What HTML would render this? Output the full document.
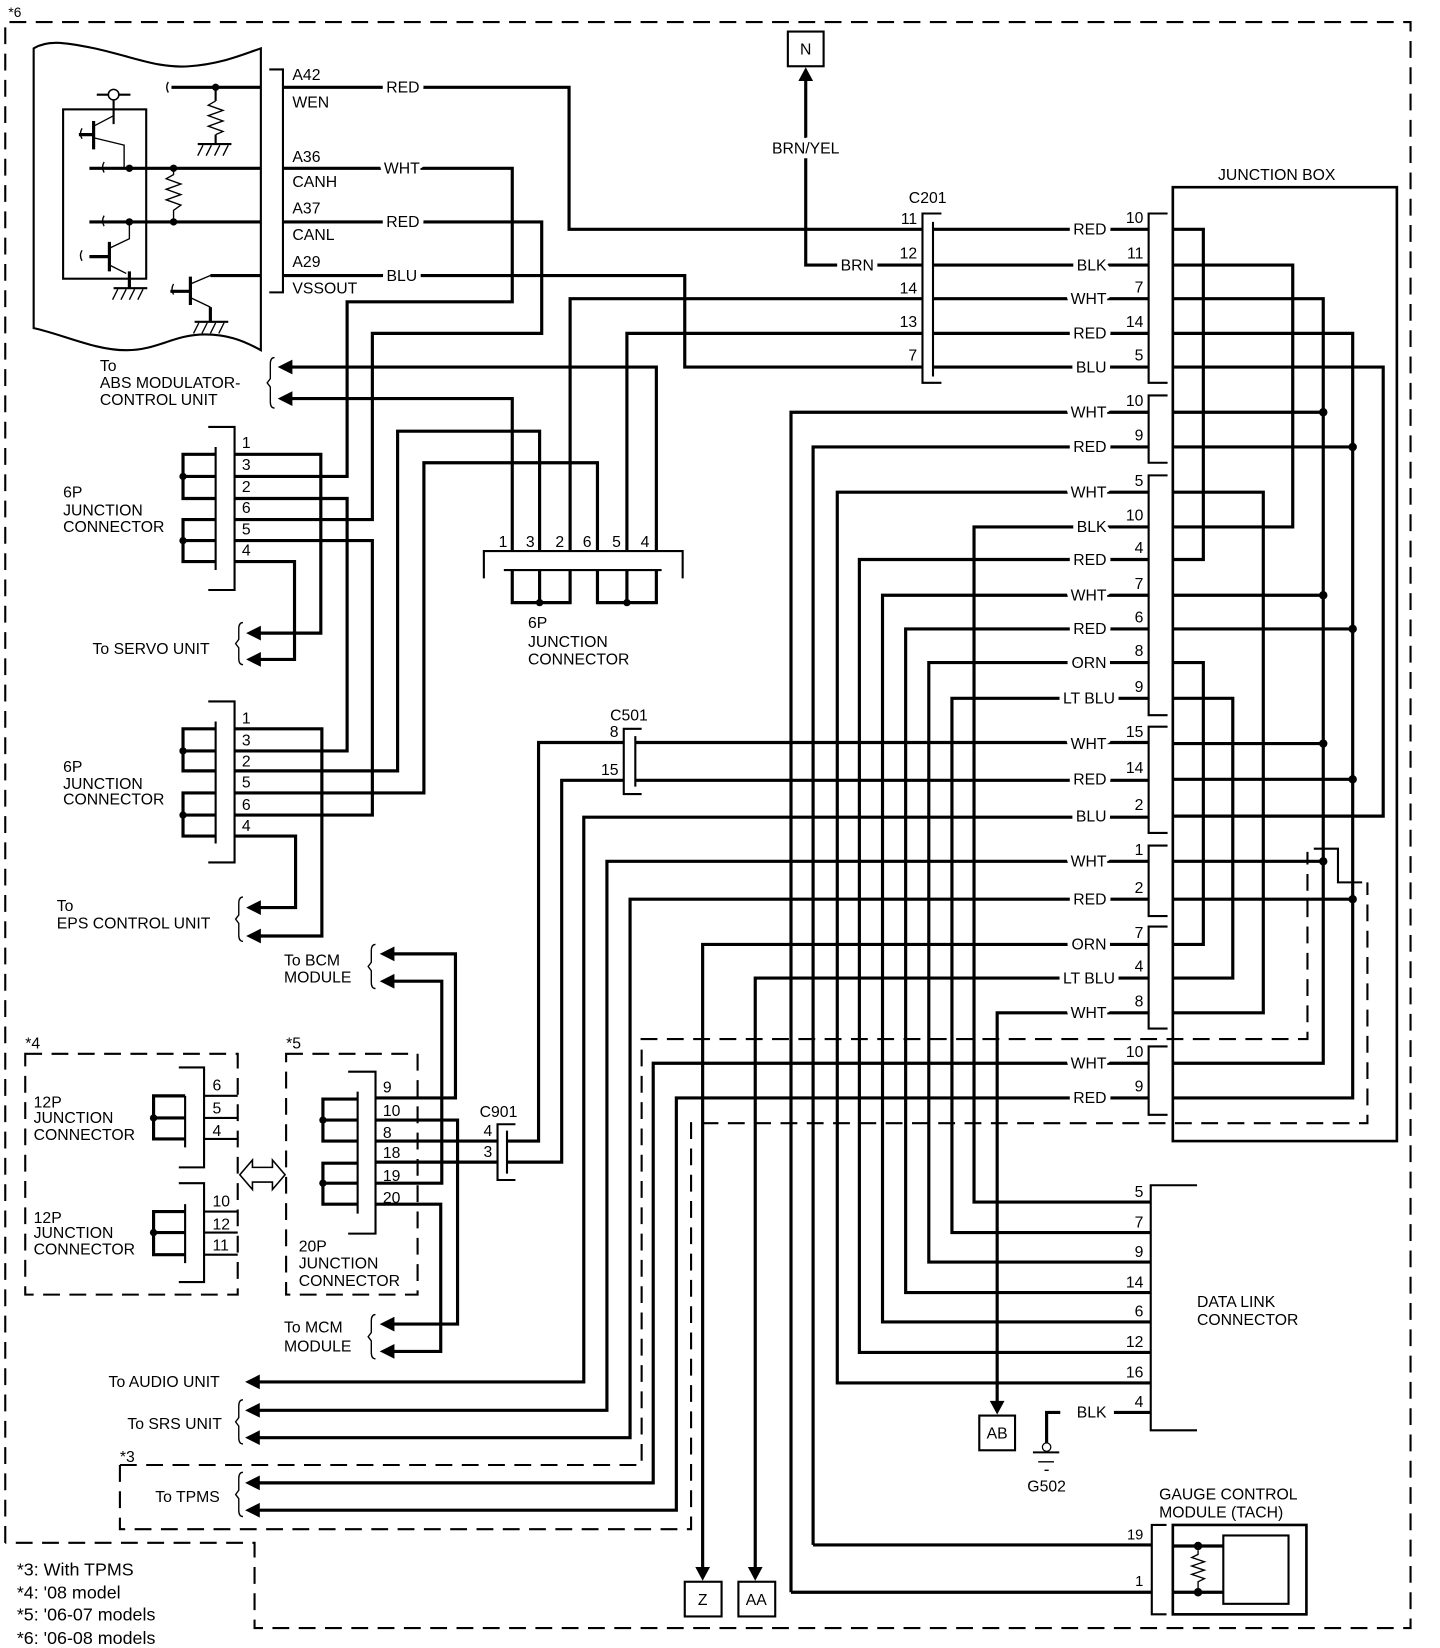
<!DOCTYPE html>
<html><head><meta charset="utf-8"><style>
html,body{margin:0;padding:0;background:#fff;}
svg{display:block;}
text{font-family:"Liberation Sans",Arial,sans-serif;font-size:15px;fill:#000;}
.h{stroke:#fff;stroke-width:9px;paint-order:stroke;stroke-linejoin:round;}
.w{fill:none;stroke:#000;stroke-width:3;}
.t{fill:none;stroke:#000;stroke-width:2;}
.n{fill:none;stroke:#000;stroke-width:1.3;}
.d{fill:none;stroke:#000;stroke-width:2;stroke-dasharray:16,9;}
.fn{font-size:17px;}
</style></head><body>
<svg width="1440" height="1648" viewBox="0 0 1369 1567" preserveAspectRatio="none" xmlns="http://www.w3.org/2000/svg">
<!-- outer dashed -->
<path class="d" d="M5,1467 V21 H1341 V1548 H242 V1467 H5"/>
<text x="8" y="16" style="font-size:13px">*6</text>

<!-- module -->
<path class="t" d="M32,46 C45,38 60,40 90,46 C130,55 150,65 180,63 C210,61 230,52 248,46 V333 C230,323 215,318 195,318 C165,318 150,333 120,333 C90,333 60,318 32,312 Z"/>
<rect class="t" x="60" y="104" width="79" height="161"/>
<circle cx="108" cy="90" r="5" fill="#fff" stroke="#000" stroke-width="1.5"/>
<path class="t" d="M92,90 H103 M113,90 H124 M108,95 V118"/>
<path class="n" d="M108,110 L89,120 M89,131 L118,138 V160"/>
<path class="w" d="M89,115 V142 M75,128 H89"/>
<path class="w" d="M85,160 H248 M85,211 H248 M163,83 H248"/>
<circle cx="123" cy="160" r="3.5"/><circle cx="165" cy="160" r="3.5"/>
<circle cx="123" cy="211" r="3.5"/><circle cx="165" cy="211" r="3.5"/>
<circle cx="205" cy="83" r="3.5"/>
<path class="n" d="M165,160 V166 L158,170 L172,175 L158,180 L172,185 L158,190 L172,195 L165,200 V211"/>
<path class="t" d="M205,83 V96"/>
<path class="n" d="M205,96 L198,100 L212,105 L198,110 L212,115 L198,120 L212,125 L205,128"/>
<path class="t" d="M205,128 V137 M188,137 H220"/>
<path class="n" d="M193,138 l-5,10 M201,138 l-5,10 M209,138 l-5,10 M217,138 l-5,10"/>
<path class="n" d="M123,211 V227 L104,236 M104,252 L120,260"/>
<path class="w" d="M104,230 V258 M85,244 H104 M123,258 V274"/>
<path class="t" d="M108,274 H140"/>
<path class="n" d="M112,275 l-5,10 M120,275 l-5,10 M128,275 l-5,10 M136,275 l-5,10"/>
<path class="w" d="M200,262 H248 M181,263 V290 M162,277 H181 M200,292 V306"/>
<path class="n" d="M200,262 L181,270 M181,283 L200,292"/>
<path class="t" d="M185,306 H217"/>
<path class="n" d="M189,307 l-5,10 M197,307 l-5,10 M205,307 l-5,10 M213,307 l-5,10"/>
<path class="n" d="M78,122 q-3,5 0,10 M78,238 q-3,5 0,10 M99,154 q-3,5 0,10 M99,205 q-3,5 0,10 M160,78 q-3,5 0,10 M165,270 q-3,5 0,10"/>

<!-- module connector -->
<path class="t" d="M256,66 H269 V278 H256"/>
<text x="278" y="76">A42</text><text x="278" y="102">WEN</text>
<text x="278" y="154">A36</text><text x="278" y="178">CANH</text>
<text x="278" y="203">A37</text><text x="278" y="228">CANL</text>
<text x="278" y="254">A29</text><text x="278" y="279">VSSOUT</text>

<!-- top wires -->
<polyline class="w" points="269,83 541,83 541,218 877,218"/>
<polyline class="w" points="269,160 487,160 487,287 330,287 330,453 223,453"/>
<polyline class="w" points="269,211 515,211 515,317 354,317 354,494 223,494"/>
<polyline class="w" points="269,262 651,262 651,349 877,349"/>
<text class="h" x="383" y="88" text-anchor="middle">RED</text>
<text class="h" x="382" y="165" text-anchor="middle">WHT</text>
<text class="h" x="383" y="216" text-anchor="middle">RED</text>
<text class="h" x="382" y="267" text-anchor="middle">BLU</text>

<!-- ABS -->
<polyline class="w" points="277,349 624,349 624,524"/>
<polyline class="w" points="277,379 487,379 487,524"/>
<polygon points="264,349 278,342 278,356"/><polygon points="264,379 278,372 278,386"/>
<path class="n" d="M261,340 q-4,0 -4,6 v14 l-3,4 l3,4 v14 q0,6 4,6"/>
<text x="95" y="353">To</text><text x="95" y="369">ABS MODULATOR-</text><text x="95" y="385">CONTROL UNIT</text>

<!-- J1 -->
<path class="t" d="M198,406 H223 V561 H198 M205,425 V542"/>
<path class="w" d="M205,432 H174 V474 H205 M174,453 H205 M205,494 H174 V534 H205 M174,514 H205"/>
<circle cx="174" cy="453" r="3.5"/><circle cx="174" cy="514" r="3.5"/>
<text x="230" y="426">1</text><text x="230" y="447">3</text><text x="230" y="468">2</text><text x="230" y="488">6</text><text x="230" y="508">5</text><text x="230" y="528">4</text>
<text x="60" y="473">6P</text><text x="60" y="490">JUNCTION</text><text x="60" y="506">CONNECTOR</text>
<polyline class="w" points="223,432 305,432 305,602 247,602"/>
<polyline class="w" points="223,534 280,534 280,627 247,627"/>
<polyline class="w" points="223,474 330,474 330,714 223,714"/>
<polyline class="w" points="223,514 354,514 354,775 223,775"/>
<polygon points="234,602 248,595 248,609"/><polygon points="234,627 248,620 248,634"/>
<path class="n" d="M231,592 q-4,0 -4,6 v10 l-3,4 l3,4 v10 q0,6 4,6"/>
<text x="88" y="622">To SERVO UNIT</text>

<!-- J2 -->
<path class="t" d="M198,667 H223 V820 H198 M205,686 V802"/>
<path class="w" d="M205,693 H174 V733 H205 M174,714 H205 M205,754 H174 V795 H205 M174,775 H205"/>
<circle cx="174" cy="714" r="3.5"/><circle cx="174" cy="775" r="3.5"/>
<text x="230" y="688">1</text><text x="230" y="709">3</text><text x="230" y="729">2</text><text x="230" y="749">5</text><text x="230" y="770">6</text><text x="230" y="790">4</text>
<text x="60" y="734">6P</text><text x="60" y="750">JUNCTION</text><text x="60" y="765">CONNECTOR</text>
<polyline class="w" points="223,693 306,693 306,890 247,890"/>
<polyline class="w" points="223,795 281,795 281,863 247,863"/>
<polyline class="w" points="223,733 378,733 378,410 513,410 513,524"/>
<polyline class="w" points="223,754 403,754 403,440 568,440 568,524"/>
<polygon points="234,863 248,856 248,870"/><polygon points="234,890 248,883 248,897"/>
<path class="n" d="M231,853 q-4,0 -4,6 v11 l-3,4 l3,4 v11 q0,6 4,6"/>
<text x="54" y="866">To</text><text x="54" y="883">EPS CONTROL UNIT</text>

<!-- bottom 6P connector -->
<polyline class="w" points="542,524 542,284 877,284"/>
<polyline class="w" points="596,524 596,317 877,317"/>
<path class="t" d="M460,550 V524 H649 V550 M479,542 H629"/>
<path class="w" d="M487,542 V573 H542 V542 M513,542 V573 M568,542 V573 H624 V542 M596,542 V573"/>
<circle cx="513" cy="573" r="3.5"/><circle cx="596" cy="573" r="3.5"/>
<text x="474" y="520">1</text><text x="500" y="520">3</text><text x="528" y="520">2</text><text x="554" y="520">6</text><text x="582" y="520">5</text><text x="609" y="520">4</text>
<text x="502" y="597">6P</text><text x="502" y="615">JUNCTION</text><text x="502" y="632">CONNECTOR</text>

<!-- N / BRN -->
<rect class="t" x="749" y="30" width="34" height="33"/>
<text x="766" y="52" text-anchor="middle">N</text>
<polygon points="766,64 759,77 773,77"/>
<polyline class="w" points="766,76 766,252 877,252"/>
<text class="h" x="766" y="146" text-anchor="middle">BRN/YEL</text>
<text class="h" x="815" y="257" text-anchor="middle">BRN</text>

<!-- C201 -->
<path class="t" d="M895,203 H877 V364 H895 M887,211 V358"/>
<text x="864" y="193">C201</text>
<g text-anchor="end"><text x="872" y="213">11</text><text x="872" y="246">12</text><text x="872" y="279">14</text><text x="872" y="311">13</text><text x="872" y="343">7</text></g>

<!-- Junction box -->
<rect class="t" x="1115" y="178" width="213" height="907" style="stroke-width:2.5"/>
<text x="1158" y="171">JUNCTION BOX</text>
<path class="t" d="M1110,203 H1092 V364 H1110 M1110,376 H1092 V440 H1110 M1110,452 H1092 V680 H1110 M1110,691 H1092 V792 H1110 M1110,804 H1092 V871 H1110 M1110,881 H1092 V978 H1110 M1110,995 H1092 V1060 H1110"/>
<!-- rows into JB pins -->
<path class="w" d="M887,218 H1092 M887,252 H1092 M887,284 H1092 M887,317 H1092 M887,349 H1092"/>
<polyline class="w" points="752,1514 752,392 1092,392"/>
<polyline class="w" points="773,1469 773,425 1092,425"/>
<polyline class="w" points="1094,1315 796,1315 796,468 1092,468"/>
<polyline class="w" points="1094,1143 926,1143 926,501 1092,501"/>
<polyline class="w" points="1094,1286 817,1286 817,532 1092,532"/>
<polyline class="w" points="1094,1257 839,1257 839,566 1092,566"/>
<polyline class="w" points="1094,1229 861,1229 861,598 1092,598"/>
<polyline class="w" points="1094,1200 883,1200 883,630 1092,630"/>
<polyline class="w" points="1094,1172 905,1172 905,664 1092,664"/>
<polyline class="w" points="473,1085 357,1085"/>
<polyline class="w" points="482,1085 512,1085 512,706 593,706"/>
<polyline class="w" points="473,1105 357,1105"/>
<polyline class="w" points="482,1105 534,1105 534,742 593,742"/>
<path class="w" d="M604,706 H1092 M604,742 H1092"/>
<polyline class="w" points="246,1314 555,1314 555,777 1092,777"/>
<polyline class="w" points="246,1341 577,1341 577,819 1092,819"/>
<polyline class="w" points="246,1367 599,1367 599,855 1092,855"/>
<polyline class="w" points="668,1490 668,898 1092,898"/>
<polyline class="w" points="718,1490 718,930 1092,930"/>
<polyline class="w" points="948,1333 948,963 1092,963"/>
<polyline class="w" points="246,1410 621,1410 621,1011 1092,1011"/>
<polyline class="w" points="246,1436 643,1436 643,1044 1092,1044"/>
<!-- JB internal -->
<path class="w" d="M1115,218 H1144 V532 H1115 M1115,630 H1144 V898 H1115"/>
<path class="w" d="M1115,252 H1229 V501 H1115"/>
<path class="w" d="M1115,284 H1258 V1011 H1115 M1115,392 H1258 M1115,566 H1258 M1115,707 H1258 M1115,819 H1258"/>
<path class="w" d="M1115,317 H1286 V1044 H1115 M1115,425 H1286 M1115,598 H1286 M1115,741 H1286 M1115,855 H1286"/>
<path class="w" d="M1115,349 H1315 V776 H1115"/>
<path class="w" d="M1115,468 H1201 V963 H1115"/>
<path class="w" d="M1115,664 H1172 V930 H1115"/>
<g><circle cx="1258" cy="392" r="4"/><circle cx="1258" cy="566" r="4"/><circle cx="1258" cy="707" r="4"/><circle cx="1258" cy="819" r="4"/>
<circle cx="1286" cy="425" r="4"/><circle cx="1286" cy="598" r="4"/><circle cx="1286" cy="741" r="4"/><circle cx="1286" cy="855" r="4"/></g>
<path class="t" d="M1249,807 H1272 V839 H1295"/>
<!-- dashed options -->
<path class="d" d="M114,1393 H610 V988 H1243 V810"/>
<path class="d" d="M114,1393 V1454 H657 V1068 H1300 V839"/>
<!-- JB labels -->
<g class="h" text-anchor="end">
<text class="h" x="1052" y="223">RED</text><text class="h" x="1052" y="257">BLK</text><text class="h" x="1052" y="289">WHT</text><text class="h" x="1052" y="322">RED</text><text class="h" x="1052" y="354">BLU</text>
<text class="h" x="1052" y="397">WHT</text><text class="h" x="1052" y="430">RED</text>
<text class="h" x="1052" y="473">WHT</text><text class="h" x="1052" y="506">BLK</text><text class="h" x="1052" y="537">RED</text><text class="h" x="1052" y="571">WHT</text><text class="h" x="1052" y="603">RED</text><text class="h" x="1052" y="635">ORN</text><text class="h" x="1060" y="669">LT BLU</text>
<text class="h" x="1052" y="712">WHT</text><text class="h" x="1052" y="746">RED</text><text class="h" x="1052" y="781">BLU</text>
<text class="h" x="1052" y="824">WHT</text><text class="h" x="1052" y="860">RED</text>
<text class="h" x="1052" y="903">ORN</text><text class="h" x="1060" y="935">LT BLU</text><text class="h" x="1052" y="968">WHT</text>
<text class="h" x="1052" y="1016">WHT</text><text class="h" x="1052" y="1049">RED</text>
</g>
<g text-anchor="end" style="font-size:14px">
<text x="1087" y="212">10</text><text x="1087" y="246">11</text><text x="1087" y="278">7</text><text x="1087" y="311">14</text><text x="1087" y="343">5</text>
<text x="1087" y="386">10</text><text x="1087" y="419">9</text>
<text x="1087" y="462">5</text><text x="1087" y="495">10</text><text x="1087" y="526">4</text><text x="1087" y="560">7</text><text x="1087" y="592">6</text><text x="1087" y="624">8</text><text x="1087" y="658">9</text>
<text x="1087" y="701">15</text><text x="1087" y="735">14</text><text x="1087" y="770">2</text>
<text x="1087" y="813">1</text><text x="1087" y="849">2</text>
<text x="1087" y="892">7</text><text x="1087" y="924">4</text><text x="1087" y="957">8</text>
<text x="1087" y="1005">10</text><text x="1087" y="1038">9</text>
</g>

<!-- C501 -->
<path class="t" d="M610,693 H593 V755 H610 M604,700 V748"/>
<text x="580" y="685">C501</text>
<text x="588" y="701" text-anchor="end">8</text><text x="588" y="737" text-anchor="end">15</text>

<!-- C901 -->
<path class="t" d="M490,1069 H473 V1122 H490 M482,1075 V1116"/>
<text x="456" y="1062">C901</text>
<text x="468" y="1080" text-anchor="end">4</text><text x="468" y="1100" text-anchor="end">3</text>

<!-- *4 box -->
<rect class="d" x="24" y="1002" width="202" height="229"/>
<text x="24" y="997">*4</text>
<path class="t" d="M170,1015 H194 V1110 H170 M176,1042 V1091 M170,1125 H194 V1219 H170 M176,1145 V1201"/>
<path class="w" d="M176,1042 H146 V1083 H176 M146,1063 H176 M176,1152 H146 V1193 H176 M146,1172 H176"/>
<path class="w" d="M194,1042 H226 M194,1063 H226 M194,1083 H226 M194,1152 H226 M194,1172 H226 M194,1193 H226" style="stroke-width:2"/>
<circle cx="146" cy="1063" r="3.5"/><circle cx="146" cy="1172" r="3.5"/>
<text x="202" y="1037">6</text><text x="202" y="1059">5</text><text x="202" y="1080">4</text>
<text x="202" y="1147">10</text><text x="202" y="1169">12</text><text x="202" y="1189">11</text>
<text x="32" y="1053">12P</text><text x="32" y="1068">JUNCTION</text><text x="32" y="1084">CONNECTOR</text>
<text x="32" y="1163">12P</text><text x="32" y="1177">JUNCTION</text><text x="32" y="1193">CONNECTOR</text>
<!-- double arrow -->
<path class="t" d="M228,1117 L240,1103 V1110 H259 V1103 L271,1117 L259,1131 V1124 H240 V1131 Z" style="stroke-width:1.5"/>

<!-- *5 box -->
<rect class="d" x="272" y="1002" width="125" height="229"/>
<text x="272" y="997">*5</text>
<path class="t" d="M331,1019 H357 V1173 H331 M340,1038 V1154"/>
<path class="w" d="M340,1045 H307 V1085 H340 M307,1065 H340 M340,1106 H307 V1145 H340 M307,1125 H340"/>
<circle cx="307" cy="1065" r="3.5"/><circle cx="307" cy="1125" r="3.5"/>
<text x="364" y="1039">9</text><text x="364" y="1061">10</text><text x="364" y="1082">8</text><text x="364" y="1101">18</text><text x="364" y="1123">19</text><text x="364" y="1144">20</text>
<text x="284" y="1190">20P</text><text x="284" y="1206">JUNCTION</text><text x="284" y="1223">CONNECTOR</text>
<polyline class="w" points="357,1044 433,1044 433,907 374,907"/>
<polyline class="w" points="357,1125 420,1125 420,933 374,933"/>
<polyline class="w" points="357,1065 435,1065 435,1259 374,1259"/>
<polyline class="w" points="357,1145 419,1145 419,1285 374,1285"/>
<polygon points="361,907 375,900 375,914"/><polygon points="361,933 375,926 375,940"/>
<polygon points="361,1259 375,1252 375,1266"/><polygon points="361,1285 375,1278 375,1292"/>
<path class="n" d="M357,898 q-4,0 -4,6 v11 l-3,4 l3,4 v11 q0,6 4,6 M357,1250 q-4,0 -4,6 v11 l-3,4 l3,4 v11 q0,6 4,6"/>
<text x="270" y="918">To BCM</text><text x="270" y="934">MODULE</text>
<text x="270" y="1267">To MCM</text><text x="270" y="1285">MODULE</text>

<!-- audio/srs/tpms arrows -->
<polygon points="233,1314 247,1307 247,1321"/>
<polygon points="233,1341 247,1334 247,1348"/><polygon points="233,1367 247,1360 247,1374"/>
<polygon points="233,1410 247,1403 247,1417"/><polygon points="233,1436 247,1429 247,1443"/>
<path class="n" d="M231,1331 q-4,0 -4,6 v11 l-3,4 l3,4 v11 q0,6 4,6 M231,1400 q-4,0 -4,6 v11 l-3,4 l3,4 v11 q0,6 4,6"/>
<text x="209" y="1319" text-anchor="end">To AUDIO UNIT</text>
<text x="211" y="1359" text-anchor="end">To SRS UNIT</text>
<text x="209" y="1428" text-anchor="end">To TPMS</text>
<text x="114" y="1390">*3</text>

<!-- footnotes -->
<text class="fn" x="16" y="1498">*3: With TPMS</text>
<text class="fn" x="16" y="1520">*4: '08 model</text>
<text class="fn" x="16" y="1541">*5: '06-07 models</text>
<text class="fn" x="16" y="1563">*6: '06-08 models</text>

<!-- Z AA AB -->
<polygon points="668,1503 661,1490 675,1490"/><rect class="t" x="651" y="1504" width="35" height="33"/><text x="668" y="1526" text-anchor="middle">Z</text>
<polygon points="718,1503 711,1490 725,1490"/><rect class="t" x="702" y="1504" width="35" height="33"/><text x="719" y="1526" text-anchor="middle">AA</text>
<polygon points="948,1345 941,1332 955,1332"/><rect class="t" x="931" y="1346" width="34" height="33"/><text x="948" y="1368" text-anchor="middle">AB</text>

<!-- DLC -->
<path class="t" d="M1138,1127 H1094 V1360 H1138"/>
<g text-anchor="end" style="font-size:14px">
<text x="1087" y="1138">5</text><text x="1087" y="1167">7</text><text x="1087" y="1195">9</text><text x="1087" y="1224">14</text><text x="1087" y="1252">6</text><text x="1087" y="1281">12</text><text x="1087" y="1310">16</text><text x="1087" y="1338">4</text>
</g>
<text x="1138" y="1243">DATA LINK</text><text x="1138" y="1260">CONNECTOR</text>
<path class="w" d="M1059,1343 H1094"/>
<text x="1052" y="1348" text-anchor="end">BLK</text>
<path class="w" d="M1008,1343 H995 V1372"/>
<circle cx="995" cy="1376" r="4" fill="#fff" stroke="#000" stroke-width="1.2"/>
<path class="t" d="M982,1381 H1007"/><path class="n" d="M987,1390 H1002 M993,1398 H997"/>
<text x="995" y="1418" text-anchor="middle">G502</text>

<!-- gauge -->
<path class="w" d="M773,1469 H1095 M752,1514 H1095"/>
<path class="t" d="M1109,1450 H1095 V1535 H1109"/>
<rect class="t" x="1115" y="1450" width="127" height="85" style="stroke-width:2.5"/>
<rect class="t" x="1163" y="1460" width="62" height="65"/>
<path class="w" d="M1115,1470 H1163 M1115,1514 H1163"/>
<circle cx="1139" cy="1470" r="4"/><circle cx="1139" cy="1514" r="4"/>
<path class="n" d="M1139,1474 V1478 L1133,1481 L1145,1485 L1133,1489 L1145,1493 L1133,1497 L1145,1501 L1139,1504 V1510"/>
<text x="1102" y="1426">GAUGE CONTROL</text><text x="1102" y="1443">MODULE (TACH)</text>
<text x="1087" y="1464" text-anchor="end" style="font-size:14px">19</text>
<text x="1087" y="1508" text-anchor="end" style="font-size:14px">1</text>
</svg>
</body></html>
